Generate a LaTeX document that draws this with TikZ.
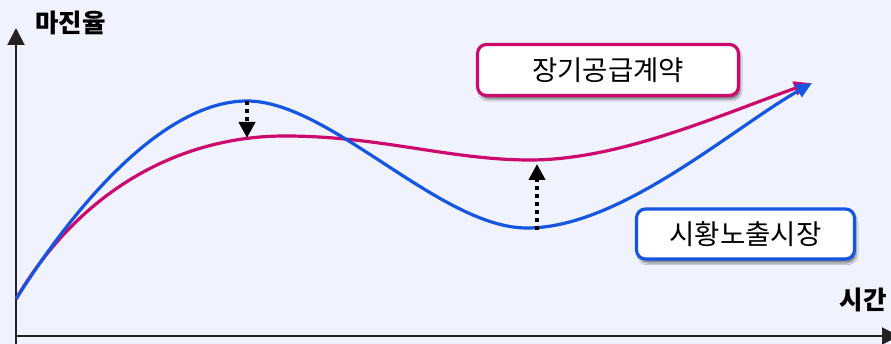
\documentclass[tikz,border=0pt]{standalone}
\usepackage{fontspec}
\newfontfamily\kr{Noto Sans CJK KR}
\usetikzlibrary{arrows.meta,shadows.blur}
\definecolor{bg}{HTML}{F0F3FE}
\definecolor{cblue}{HTML}{1456E0}
\definecolor{cmag}{HTML}{CC0A6E}
\definecolor{axis}{HTML}{222222}
\tikzset{
  curve/.style={line width=3.2pt, -{Triangle[length=16pt,width=14pt]}},
  dotarrow/.style={line width=4pt, dash pattern=on 4pt off 4pt, -{Triangle[length=16pt,width=16pt]}, black},
  axisline/.style={line width=2pt, axis, -{Triangle[length=17pt,width=17pt]}},
  labeltext/.style={font=\kr\bfseries\fontsize{25.5}{28}\selectfont, text=black, inner sep=0pt},
  legendbox/.style={draw, line width=3.2pt, rounded corners=9pt, fill=white, font=\kr\fontsize{27.5}{30}\selectfont, text=black,
    blur shadow={shadow xshift=2pt, shadow yshift=-4pt, shadow blur steps=6, shadow opacity=45}}
}
\begin{document}
\begin{tikzpicture}[x=1pt,y=-1pt]
\fill[bg] (0,0) rectangle (891,344);
\useasboundingbox (0,0) rectangle (891,344);
% axes
\coordinate (o) at (16,336);
\coordinate (ytip) at (16,28);
\coordinate (xtip) at (899,336);
\draw[axisline] (16,350) -- (ytip);
\draw[axisline] (o) -- (xtip);
\node[labeltext, anchor=west] (ylab) at (35,23) {마진율};
\node[labeltext, anchor=east] (xlab) at (887,300) {시간};
% curves
\draw[cmag, curve] (16,299) .. controls (80,190) and (180,136) .. (285,136)
  .. controls (380,136) and (450,160) .. (530,160)
  .. controls (620,160) and (720,115) .. (810,83);
\draw[cblue, curve] (16,299) .. controls (85,190) and (170,101) .. (247,101)
  .. controls (330,101) and (440,228) .. (527,228)
  .. controls (620,228) and (730,130) .. (812,83);
% dotted arrows
\coordinate (a1) at (247,101);
\coordinate (b1) at (247,138);
\coordinate (a2) at (537,230);
\coordinate (b2) at (537,164);
\draw[dotarrow] (a1) -- (b1);
\draw[dotarrow] (a2) -- (b2);
% legend boxes
\node[legendbox, draw=cmag, minimum width=261pt, minimum height=51pt] (lt) at (608,70) {장기공급계약};
\node[legendbox, draw=cblue, minimum width=218pt, minimum height=50pt] (sp) at (745.5,234) {시황노출시장};
\end{tikzpicture}
\end{document}
